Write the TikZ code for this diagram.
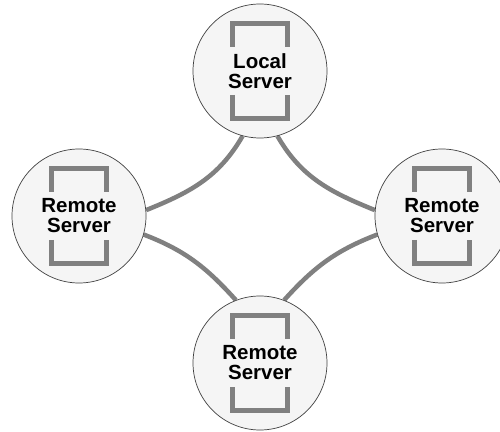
\documentclass[tikz,border=0pt]{standalone}
\usepackage{fontspec}
\setmainfont{Liberation Sans}
\usetikzlibrary{backgrounds}
\definecolor{linkgray}{HTML}{808080}
\definecolor{nodefill}{HTML}{F5F5F5}
\definecolor{rimgray}{HTML}{404040}
\tikzset{
  srv/.style={circle, draw=rimgray, line width=0.7pt, fill=nodefill,
    minimum size=134pt, inner sep=0pt, align=center,
    font=\fontsize{20.5}{20}\selectfont\bfseries},
  link/.style={draw=linkgray, line width=4.5pt},
  bracketline/.style={draw=linkgray, line width=5pt, miter limit=10}
}
\begin{document}
\begin{tikzpicture}[x=1pt,y=1pt]
  \useasboundingbox (0,0) rectangle (500,431);
  \clip (0,0) rectangle (500,431);
  \node[srv] (localsrv) at (260,360) {Local\\Server};
  \node[srv] (remw) at (79,215) {Remote\\Server};
  \node[srv] (reme) at (442,215) {Remote\\Server};
  \node[srv] (rems) at (260,68) {Remote\\Server};
  \foreach \n in {localsrv,remw,reme,rems} {
    \draw[bracketline] ([xshift=-27.5pt,yshift=24pt]\n.center) -- ++(0,23.5) -- ++(55,0) -- ++(0,-23.5);
    \draw[bracketline] ([xshift=-27.5pt,yshift=-24pt]\n.center) -- ++(0,-23.5) -- ++(55,0) -- ++(0,23.5);
  }
  \begin{pgfonlayer}{background}
    \fill[white] (0,0) rectangle (500,431);
    \draw[link] (localsrv.255) to[out=240,in=22] (remw.5);
    \draw[link] (remw.-16) to[out=-21,in=132] (rems.111);
    \draw[link] (localsrv.285) to[out=300,in=158] (reme.175);
    \draw[link] (reme.196) to[out=201,in=48] (rems.69);
  \end{pgfonlayer}
\end{tikzpicture}
\end{document}
